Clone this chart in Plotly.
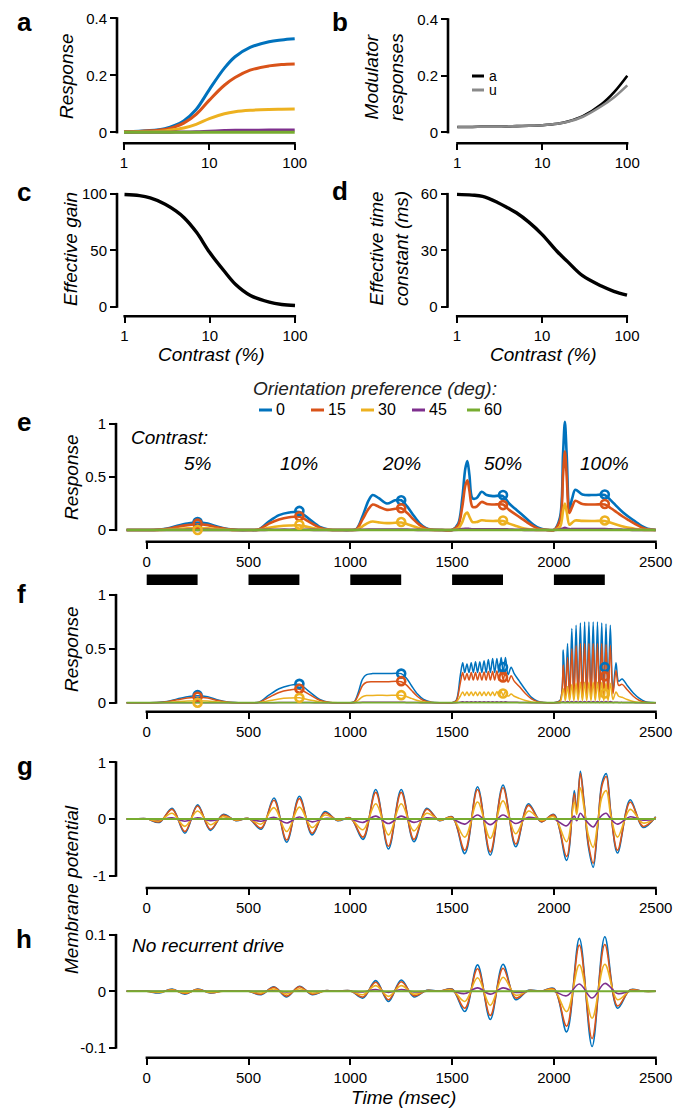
import plotly.graph_objects as go

W, H = 683, 1109
OFF = 8  # page body margin of the html page
FONT = "Liberation Sans, Arial, Helvetica, sans-serif"

# ---------------- data ----------------
orient_labels = ['0', '15', '30', '45', '60']
orient_colors = ['#0072BD', '#D95319', '#EDB120', '#7E2F8E', '#77AC30']

contrast = [1, 1.5, 2, 3, 4, 5, 7, 10, 15, 20, 30, 50, 70, 100]
a_r0 = [0.002, 0.004, 0.006, 0.013, 0.025, 0.04, 0.08, 0.15, 0.225, 0.265, 0.298, 0.318, 0.324, 0.328]
a_r15 = [0.002, 0.003, 0.005, 0.01, 0.02, 0.032, 0.063, 0.113, 0.165, 0.192, 0.218, 0.233, 0.238, 0.24]
a_r30 = [0.001, 0.002, 0.002, 0.005, 0.01, 0.015, 0.028, 0.048, 0.065, 0.072, 0.077, 0.08, 0.081, 0.082]
a_r45 = [0, 0, 0, 0, 0.001, 0.001, 0.002, 0.004, 0.006, 0.007, 0.007, 0.008, 0.008, 0.008]
a_r60 = [0, 0, 0, 0, 0, 0, 0, 0, 0, 0, 0, 0, 0, 0]

b_names = ['a', 'u']
b_a = [0.019, 0.019, 0.02, 0.02, 0.021, 0.022, 0.023, 0.025, 0.03, 0.038, 0.057, 0.1, 0.142, 0.2]
b_u = [0.019, 0.019, 0.02, 0.02, 0.021, 0.022, 0.023, 0.025, 0.03, 0.037, 0.055, 0.093, 0.124, 0.166]

c_gain = [99.5, 98.5, 96.5, 91, 85, 79, 66, 48, 31, 20, 10, 4, 2, 1]
d_tau = [59.8, 59.4, 58.7, 55.5, 52.5, 50, 45, 38.5, 29.5, 24, 16.5, 11, 8.2, 6.2]

stim_on = [0, 500, 1000, 1500, 2000]
stim_off = [250, 750, 1250, 1750, 2250]
contrast_labels = ['5%', '10%', '20%', '50%', '100%']
t_flat = [-100, 2500]
zero_flat = [0, 0]

# panel e
t_e = [-100, 0, 50, 100, 150, 200, 250, 300, 350, 400, 450, 500, 550, 600, 650, 700, 750, 800, 850, 900, 950, 1000,
       1030, 1060, 1090, 1110, 1140, 1180, 1220, 1250, 1280, 1310, 1340, 1370, 1400, 1450, 1500,
       1530, 1550, 1565, 1575, 1585, 1600, 1620, 1645, 1670, 1700, 1750, 1780, 1810, 1840, 1870, 1900, 1930, 1960, 2000,
       2030, 2045, 2054, 2063, 2076, 2090, 2105, 2140, 2200, 2250, 2280, 2310, 2340, 2370, 2400, 2430, 2460, 2500]
e_r0 = [0, 0, 0.002, 0.015, 0.04, 0.06, 0.07, 0.06, 0.03, 0.008, 0, 0, 0.005, 0.08, 0.14, 0.165, 0.17, 0.1, 0.03, 0.003, 0, 0,
        0.01, 0.13, 0.28, 0.33, 0.3, 0.25, 0.28, 0.28, 0.22, 0.14, 0.065, 0.02, 0.004, 0, 0,
        0.06, 0.3, 0.58, 0.65, 0.52, 0.3, 0.3, 0.36, 0.33, 0.32, 0.32, 0.25, 0.2, 0.15, 0.1, 0.05, 0.016, 0.003, 0,
        0.12, 0.72, 1.02, 0.7, 0.2, 0.3, 0.38, 0.335, 0.33, 0.33, 0.28, 0.22, 0.165, 0.12, 0.08, 0.038, 0.012, 0]
e_r15 = [0, 0, 0.001, 0.011, 0.03, 0.046, 0.054, 0.046, 0.023, 0.006, 0, 0, 0.004, 0.06, 0.1, 0.12, 0.125, 0.075, 0.022, 0.002, 0, 0,
         0.007, 0.1, 0.2, 0.24, 0.22, 0.19, 0.2, 0.205, 0.16, 0.1, 0.048, 0.015, 0.003, 0, 0,
         0.045, 0.22, 0.42, 0.47, 0.37, 0.22, 0.22, 0.265, 0.245, 0.24, 0.24, 0.19, 0.15, 0.11, 0.07, 0.035, 0.01, 0.002, 0,
         0.09, 0.52, 0.74, 0.5, 0.16, 0.22, 0.275, 0.245, 0.24, 0.24, 0.205, 0.165, 0.125, 0.09, 0.055, 0.025, 0.007, 0]
e_r30 = [0, 0, 0, 0.004, 0.01, 0.016, 0.018, 0.015, 0.008, 0.002, 0, 0, 0.001, 0.02, 0.035, 0.042, 0.044, 0.025, 0.007, 0.001, 0, 0,
         0.002, 0.035, 0.07, 0.08, 0.072, 0.065, 0.068, 0.07, 0.055, 0.035, 0.016, 0.005, 0.001, 0, 0,
         0.015, 0.075, 0.15, 0.165, 0.125, 0.075, 0.075, 0.092, 0.087, 0.085, 0.085, 0.06, 0.04, 0.022, 0.01, 0.004, 0.001, 0, 0,
         0.03, 0.18, 0.25, 0.17, 0.05, 0.07, 0.09, 0.086, 0.085, 0.085, 0.068, 0.05, 0.033, 0.02, 0.01, 0.004, 0.001, 0]
e_r45 = [0, 0, 0, 0, 0, 0.001, 0.001, 0.001, 0, 0, 0, 0, 0, 0.002, 0.003, 0.003, 0.003, 0.002, 0, 0, 0, 0,
         0, 0.003, 0.005, 0.005, 0.005, 0.005, 0.005, 0.005, 0.004, 0.002, 0.001, 0, 0, 0, 0,
         0.002, 0.008, 0.012, 0.012, 0.01, 0.007, 0.007, 0.007, 0.007, 0.007, 0.007, 0.005, 0.003, 0.002, 0.001, 0, 0, 0, 0,
         0.005, 0.015, 0.02, 0.015, 0.008, 0.008, 0.008, 0.008, 0.008, 0.008, 0.006, 0.004, 0.003, 0.002, 0.001, 0, 0, 0]
e_mark_r0 = [0.075, 0.18, 0.28, 0.33, 0.335]
e_mark_r15 = [0.06, 0.13, 0.205, 0.235, 0.245]
e_mark_r30 = [0.0, 0.05, 0.075, 0.09, 0.09]

# panel f
t_f = [-100, 0, 50, 100, 150, 200, 250, 300, 350, 400, 450, 500, 550, 600, 650, 700, 750, 800, 850, 900, 950, 1000,
       1020, 1040, 1060, 1080, 1110, 1180, 1250, 1275, 1300, 1330, 1360, 1400, 1450, 1500, 1520,
       1540, 1552, 1562, 1573, 1583, 1594, 1604, 1615, 1625, 1636, 1646, 1657, 1667, 1678, 1688, 1699, 1709, 1720, 1730, 1741, 1751, 1762,
       1775, 1790, 1805, 1830, 1860, 1890, 1920, 1950, 2000, 2030,
       2046, 2056, 2067, 2077, 2088, 2098, 2109, 2119, 2130, 2140, 2151, 2161, 2172, 2182, 2193, 2203, 2214, 2224, 2235, 2245, 2256, 2266, 2277,
       2290, 2305, 2318, 2335, 2360, 2390, 2420, 2450, 2480, 2500]
f_r0 = [0, 0, 0.002, 0.012, 0.035, 0.055, 0.065, 0.055, 0.025, 0.006, 0, 0, 0.004, 0.07, 0.13, 0.16, 0.17, 0.1, 0.03, 0.003, 0, 0,
        0.01, 0.1, 0.22, 0.26, 0.27, 0.27, 0.27, 0.23, 0.16, 0.08, 0.03, 0.004, 0, 0, 0.02,
        0.25, 0.37, 0.28, 0.36, 0.28, 0.37, 0.28, 0.38, 0.28, 0.38, 0.28, 0.39, 0.28, 0.40, 0.28, 0.41, 0.28, 0.41, 0.28, 0.42, 0.28, 0.42,
        0.26, 0.33, 0.27, 0.2, 0.12, 0.05, 0.015, 0.002, 0, 0.02,
        0.49, 0.05, 0.55, 0.05, 0.69, 0.05, 0.72, 0.05, 0.74, 0.05, 0.75, 0.05, 0.75, 0.05, 0.75, 0.05, 0.75, 0.05, 0.74, 0.05, 0.73, 0.05, 0.72,
        0.1, 0.37, 0.2, 0.22, 0.16, 0.09, 0.04, 0.01, 0.001, 0]
f_r15 = [0, 0, 0.001, 0.009, 0.027, 0.043, 0.05, 0.043, 0.02, 0.005, 0, 0, 0.003, 0.05, 0.095, 0.117, 0.125, 0.075, 0.022, 0.002, 0, 0,
         0.007, 0.075, 0.16, 0.19, 0.195, 0.195, 0.195, 0.165, 0.115, 0.058, 0.02, 0.003, 0, 0, 0.015,
         0.18, 0.28, 0.21, 0.27, 0.21, 0.28, 0.21, 0.28, 0.21, 0.28, 0.21, 0.285, 0.21, 0.29, 0.21, 0.29, 0.21, 0.295, 0.21, 0.3, 0.21, 0.3,
         0.19, 0.25, 0.2, 0.15, 0.085, 0.035, 0.01, 0.001, 0, 0.015,
         0.35, 0.04, 0.42, 0.04, 0.5, 0.04, 0.53, 0.04, 0.55, 0.04, 0.55, 0.04, 0.55, 0.04, 0.55, 0.04, 0.55, 0.04, 0.55, 0.04, 0.54, 0.04, 0.53,
         0.08, 0.3, 0.16, 0.17, 0.12, 0.06, 0.02, 0.004, 0, 0]
f_r30 = [0, 0, 0, 0.003, 0.01, 0.016, 0.018, 0.015, 0.007, 0.002, 0, 0, 0.001, 0.018, 0.035, 0.043, 0.045, 0.026, 0.007, 0.001, 0, 0,
         0.002, 0.025, 0.055, 0.066, 0.068, 0.068, 0.068, 0.057, 0.04, 0.02, 0.007, 0.001, 0, 0, 0.005,
         0.06, 0.1, 0.065, 0.1, 0.065, 0.1, 0.065, 0.1, 0.065, 0.1, 0.065, 0.1, 0.065, 0.1, 0.065, 0.1, 0.065, 0.105, 0.065, 0.105, 0.065, 0.105,
         0.06, 0.08, 0.06, 0.04, 0.02, 0.007, 0.002, 0, 0, 0.005,
         0.13, 0.02, 0.15, 0.02, 0.17, 0.02, 0.18, 0.02, 0.19, 0.02, 0.19, 0.02, 0.19, 0.02, 0.19, 0.02, 0.19, 0.02, 0.19, 0.02, 0.18, 0.02, 0.18,
         0.03, 0.1, 0.06, 0.05, 0.03, 0.012, 0.003, 0, 0, 0]
f_r45 = [0, 0, 0, 0, 0, 0, 0.001, 0, 0, 0, 0, 0, 0, 0, 0.001, 0.002, 0.002, 0.001, 0, 0, 0, 0,
         0, 0.002, 0.004, 0.004, 0.004, 0.004, 0.004, 0.003, 0.002, 0.001, 0, 0, 0, 0, 0,
         0.004, 0.008, 0.004, 0.008, 0.004, 0.008, 0.004, 0.008, 0.004, 0.008, 0.004, 0.008, 0.004, 0.008, 0.004, 0.008, 0.004, 0.008, 0.004, 0.008, 0.004, 0.008,
         0.004, 0.005, 0.004, 0.003, 0.001, 0, 0, 0, 0, 0,
         0.01, 0.002, 0.012, 0.002, 0.012, 0.002, 0.012, 0.002, 0.012, 0.002, 0.012, 0.002, 0.012, 0.002, 0.012, 0.002, 0.012, 0.002, 0.012, 0.002, 0.012, 0.002, 0.012,
         0.002, 0.005, 0.003, 0.003, 0.002, 0.001, 0, 0, 0, 0]
f_mark_r0 = [0.07, 0.175, 0.27, 0.33, 0.33]
f_mark_r15 = [0.055, 0.13, 0.2, 0.235, 0.245]
f_mark_r30 = [0.0, 0.045, 0.07, 0.085, 0.085]

# panel g (membrane potential, with recurrent drive)
t_g = [-100, -62.5, 0, 62.5, 125, 187.5, 250, 312.5, 375, 437.5, 500, 562.5, 625, 687.5, 750, 812.5, 875, 937.5,
       1000, 1062.5, 1125, 1187.5, 1250, 1312.5, 1375, 1437.5, 1500, 1562.5, 1625, 1687.5, 1750, 1812.5, 1875, 1937.5,
       2000, 2062.5, 2100, 2112, 2130, 2148, 2170, 2193, 2215, 2237, 2257, 2280, 2312.5, 2375, 2437.5, 2500]
g_r0 = [0, 0, 0.005, -0.06, 0.19, -0.25, 0.25, -0.2, 0.08, -0.03, 0.01, -0.18, 0.37, -0.41, 0.4, -0.28, 0.13, -0.03,
        0.02, -0.36, 0.52, -0.53, 0.52, -0.4, 0.19, -0.03, 0.04, -0.61, 0.57, -0.64, 0.6, -0.49, 0.27, -0.05,
        0.08, -0.73, 0.5, 0.15, 0.84, 0.3, -0.5, -0.85, -0.15, 0.65, 0.8, 0.1, -0.6, 0.34, -0.15, 0.04]
g_r15 = [0, 0, 0.004, -0.05, 0.17, -0.22, 0.23, -0.18, 0.07, -0.025, 0.008, -0.16, 0.33, -0.37, 0.36, -0.25, 0.11, -0.025,
         0.018, -0.32, 0.47, -0.48, 0.47, -0.36, 0.17, -0.025, 0.035, -0.55, 0.52, -0.58, 0.55, -0.44, 0.24, -0.045,
         0.07, -0.66, 0.45, 0.12, 0.8, 0.28, -0.45, -0.78, -0.12, 0.6, 0.75, 0.08, -0.55, 0.3, -0.13, 0.035]
g_r30 = [0, 0, 0.002, -0.03, 0.1, -0.13, 0.14, -0.1, 0.04, -0.015, 0.005, -0.09, 0.2, -0.22, 0.21, -0.15, 0.07, -0.015,
         0.01, -0.19, 0.27, -0.28, 0.27, -0.21, 0.1, -0.015, 0.02, -0.32, 0.3, -0.34, 0.32, -0.26, 0.14, -0.025,
         0.04, -0.4, 0.3, 0.08, 0.55, 0.2, -0.3, -0.5, -0.08, 0.4, 0.5, 0.05, -0.32, 0.17, -0.07, 0.02]
g_r45 = [0, 0, 0, -0.01, 0.02, -0.04, 0.02, -0.03, 0.005, 0, 0, -0.04, 0.03, -0.07, 0.035, -0.05, 0.01, 0,
         0, -0.06, 0.05, -0.08, 0.05, -0.06, 0.02, 0, 0, -0.09, 0.07, -0.1, 0.07, -0.08, 0.03, -0.005,
         0, -0.12, 0.05, -0.03, 0.1, 0.02, -0.08, -0.14, -0.03, 0.07, 0.1, 0.0, -0.09, 0.04, -0.02, 0]

# panel h (membrane potential, no recurrent drive)
t_h = [-100, -62.5, 0, 62.5, 125, 187.5, 250, 312.5, 375, 437.5, 500, 562.5, 625, 687.5, 750, 812.5, 875, 937.5,
       1000, 1062.5, 1125, 1187.5, 1250, 1312.5, 1375, 1437.5, 1500, 1562.5, 1625, 1687.5, 1750, 1812.5, 1875, 1937.5,
       2000, 2062.5, 2125, 2187.5, 2250, 2312.5, 2375, 2437.5, 2500]
h_r0 = [0, 0, 0, -0.003, 0.004, -0.005, 0.004, -0.003, 0.0005, 0, 0, -0.006, 0.008, -0.01, 0.009, -0.006, 0.001, 0,
        0.001, -0.012, 0.019, -0.018, 0.02, -0.01, 0.002, 0, 0.004, -0.036, 0.047, -0.05, 0.048, -0.015, 0.002, 0,
        0.005, -0.072, 0.094, -0.098, 0.097, -0.03, 0.003, 0, 0]
h_r15 = [0, 0, 0, -0.002, 0.003, -0.004, 0.0035, -0.0025, 0.0004, 0, 0, -0.005, 0.007, -0.0085, 0.008, -0.005, 0.001, 0,
         0.001, -0.01, 0.016, -0.015, 0.017, -0.008, 0.0015, 0, 0.0035, -0.03, 0.04, -0.043, 0.041, -0.012, 0.0015, 0,
         0.004, -0.062, 0.082, -0.084, 0.083, -0.026, 0.0025, 0, 0]
h_r30 = [0, 0, 0, -0.0015, 0.002, -0.0025, 0.002, -0.0015, 0, 0, 0, -0.003, 0.004, -0.005, 0.0045, -0.003, 0, 0,
         0, -0.006, 0.01, -0.009, 0.01, -0.005, 0.001, 0, 0.002, -0.018, 0.024, -0.025, 0.025, -0.007, 0.001, 0,
         0.0025, -0.036, 0.047, -0.048, 0.048, -0.015, 0.001, 0, 0]
h_r45 = [0, 0, 0, 0, 0, 0, 0, 0, 0, 0, 0, 0, 0.001, -0.001, 0.001, 0, 0, 0,
         0, -0.001, 0.003, -0.002, 0.003, -0.001, 0, 0, 0, -0.004, 0.006, -0.005, 0.006, -0.002, 0, 0,
         0, -0.008, 0.013, -0.012, 0.014, -0.004, 0, 0, 0]

# ---------------- helpers ----------------
def X(px):
    return (px - OFF) / W


def Y(py):
    return 1 - (py - OFF) / H


def vpx(v, m):
    va, pa, vb, pb = m
    return pa + (v - va) * (pb - pa) / (vb - va)


fig = go.Figure()
layout = {}
shapes = []
annotations = []

TICKFONT = dict(family=FONT, size=15, color='black')

panels = {
    1: dict(xtype='log', xmap=(0, 124, 2, 294.7), xr=(-0.015, 2.015), xticks=[1, 10, 100], xtt=['1', '10', '100'], xspan=(0, 2),
            ymap=(0, 132.3, 0.4, 18.3), yr=(-0.012, 0.41), yticks=[0, 0.2, 0.4], ytt=['0', '0.2', '0.4'], yspan=(0, 0.4),
            ysp=117, xsp=143.3),
    2: dict(xtype='log', xmap=(0, 457.3, 2, 627.3), xr=(-0.015, 2.015), xticks=[1, 10, 100], xtt=['1', '10', '100'], xspan=(0, 2),
            ymap=(0, 132.3, 0.4, 19.3), yr=(-0.012, 0.41), yticks=[0, 0.2, 0.4], ytt=['0', '0.2', '0.4'], yspan=(0, 0.4),
            ysp=448, xsp=143.3),
    3: dict(xtype='log', xmap=(0, 124.5, 2, 295), xr=(-0.015, 2.015), xticks=[1, 10, 100], xtt=['1', '10', '100'], xspan=(0, 2),
            ymap=(0, 306.7, 100, 194), yr=(-3, 103), yticks=[0, 50, 100], ytt=['0', '50', '100'], yspan=(0, 100),
            ysp=117, xsp=316.3),
    4: dict(xtype='log', xmap=(0, 457, 2, 627), xr=(-0.015, 2.015), xticks=[1, 10, 100], xtt=['1', '10', '100'], xspan=(0, 2),
            ymap=(0, 306.7, 60, 194), yr=(-2, 62), yticks=[0, 30, 60], ytt=['0', '30', '60'], yspan=(0, 60),
            ysp=447.5, xsp=316.3),
    5: dict(xtype='linear', xmap=(0, 146.7, 2500, 655.7), xr=(-100, 2510), xticks=[0, 500, 1000, 1500, 2000, 2500],
            xtt=['0', '500', '1000', '1500', '2000', '2500'], xspan=(0, 2500),
            ymap=(0, 530, 1, 424), yr=(-0.03, 1.07), yticks=[0, 0.5, 1], ytt=['0', '0.5', '1'], yspan=(0, 1),
            ysp=116, xsp=541.7),
    6: dict(xtype='linear', xmap=(0, 146.7, 2500, 655.7), xr=(-100, 2510), xticks=[0, 500, 1000, 1500, 2000, 2500],
            xtt=['0', '500', '1000', '1500', '2000', '2500'], xspan=(0, 2500),
            ymap=(0, 702.7, 1, 595), yr=(-0.03, 1.02), yticks=[0, 0.5, 1], ytt=['0', '0.5', '1'], yspan=(0, 1),
            ysp=116, xsp=711.7),
    7: dict(xtype='linear', xmap=(0, 146.7, 2500, 655.7), xr=(-100, 2510), xticks=[0, 500, 1000, 1500, 2000, 2500],
            xtt=['0', '500', '1000', '1500', '2000', '2500'], xspan=(0, 2500),
            ymap=(0, 819, 1, 762.3), yr=(-1.03, 1.03), yticks=[-1, 0, 1], ytt=['-1', '0', '1'], yspan=(-1, 1),
            ysp=116, xsp=888),
    8: dict(xtype='linear', xmap=(0, 146.7, 2500, 655.7), xr=(-100, 2510), xticks=[0, 500, 1000, 1500, 2000, 2500],
            xtt=['0', '500', '1000', '1500', '2000', '2500'], xspan=(0, 2500),
            ymap=(0, 991.3, 0.1, 935), yr=(-0.106, 0.106), yticks=[-0.1, 0, 0.1], ytt=['-0.1', '0', '0.1'], yspan=(-0.1, 0.1),
            ysp=116, xsp=1057.7),
}

SPINE_W = 2.6
for i, p in panels.items():
    ax = '' if i == 1 else str(i)
    xd = [X(vpx(p['xr'][0], p['xmap'])), X(vpx(p['xr'][1], p['xmap']))]
    yd = [Y(vpx(p['yr'][0], p['ymap'])), Y(vpx(p['yr'][1], p['ymap']))]
    layout['xaxis' + ax] = dict(type=p['xtype'], domain=xd, range=list(p['xr']), anchor='free', position=Y(p['xsp']),
                                showline=False, showgrid=False, zeroline=False, ticks='outside', ticklen=6,
                                tickwidth=2.2, tickcolor='black', tickvals=p['xticks'], ticktext=p['xtt'],
                                tickfont=TICKFONT, fixedrange=True, automargin=False)
    layout['yaxis' + ax] = dict(domain=yd, range=list(p['yr']), anchor='free', position=X(p['ysp']),
                                showline=False, showgrid=False, zeroline=False, ticks='outside', ticklen=7,
                                tickwidth=2.2, tickcolor='black', tickvals=p['yticks'], ticktext=p['ytt'],
                                tickfont=TICKFONT, fixedrange=True, automargin=False)
    # spines
    x0, x1 = vpx(p['xspan'][0], p['xmap']), vpx(p['xspan'][1], p['xmap'])
    shapes.append(dict(type='line', xref='paper', yref='paper', x0=X(x0 - 1.1), x1=X(x1 + 1.1),
                       y0=Y(p['xsp']), y1=Y(p['xsp']), line=dict(color='black', width=SPINE_W)))
    y0, y1 = vpx(p['yspan'][0], p['ymap']), vpx(p['yspan'][1], p['ymap'])
    shapes.append(dict(type='line', xref='paper', yref='paper', x0=X(p['ysp']), x1=X(p['ysp']),
                       y0=Y(y0 + 1.1), y1=Y(y1 - 1.1), line=dict(color='black', width=SPINE_W)))


def add_line(i, x, y, color, width, smoothing=1.0):
    ax = '' if i == 1 else str(i)
    fig.add_trace(go.Scatter(x=x, y=y, mode='lines',
                             line=dict(color=color, width=width, shape='spline', smoothing=smoothing),
                             xaxis='x' + ax, yaxis='y' + ax, hoverinfo='skip', showlegend=False))


def add_marks(i, x, y, color):
    ax = '' if i == 1 else str(i)
    fig.add_trace(go.Scatter(x=x, y=y, mode='markers',
                             marker=dict(symbol='circle-open', size=8, color=color, line=dict(width=2.6, color=color)),
                             xaxis='x' + ax, yaxis='y' + ax, hoverinfo='skip', showlegend=False, cliponaxis=False))


# panel a
for ser, col in zip([a_r0, a_r15, a_r30, a_r45, a_r60], orient_colors):
    add_line(1, contrast, ser, col, 3.0)
# panel b (u drawn over a)
add_line(2, contrast, b_a, 'black', 2.6)
add_line(2, contrast, b_u, '#8a8a8a', 2.6)
# panel c / d
add_line(3, contrast, c_gain, 'black', 3.4)
add_line(4, contrast, d_tau, 'black', 3.4)

# panel e
for ser, col in zip([e_r0, e_r15, e_r30, e_r45], orient_colors[:4]):
    add_line(5, t_e, ser, col, 2.6, 0.9)
add_line(5, t_flat, zero_flat, orient_colors[4], 2.6)
for ser, col in zip([e_mark_r0, e_mark_r15, e_mark_r30], orient_colors[:3]):
    add_marks(5, stim_off, ser, col)

# panel f
for ser, col in zip([f_r0, f_r15, f_r30, f_r45], orient_colors[:4]):
    add_line(6, t_f, ser, col, 1.5, 0.9)
add_line(6, t_flat, zero_flat, orient_colors[4], 1.8)
for ser, col in zip([f_mark_r0, f_mark_r15, f_mark_r30], orient_colors[:3]):
    add_marks(6, stim_off, ser, col)

# panel g
for ser, col in zip([g_r0, g_r15, g_r30, g_r45], orient_colors[:4]):
    add_line(7, t_g, ser, col, 1.6, 1.0)
add_line(7, t_flat, zero_flat, orient_colors[4], 1.8)

# panel h
for ser, col in zip([h_r0, h_r15, h_r30, h_r45], orient_colors[:4]):
    add_line(8, t_h, ser, col, 1.6, 1.0)
add_line(8, t_flat, zero_flat, orient_colors[4], 2.0)

# stimulus bars (in panel e time coordinates)
for on, off in zip(stim_on, stim_off):
    shapes.append(dict(type='rect', xref='x5', yref='paper', x0=on, x1=off, y0=Y(585), y1=Y(574.5),
                       fillcolor='black', line=dict(width=0)))

# contrast labels
annotations.append(dict(x=X(129), y=Y(438), xref='paper', yref='paper', text='<i>Contrast:</i>', showarrow=False,
                        xanchor='left', yanchor='middle', font=dict(family=FONT, size=19, color='black')))
for lab, off in zip(contrast_labels, stim_off):
    annotations.append(dict(x=off, y=Y(463), xref='x5', yref='paper', text='<i>' + lab + '</i>', showarrow=False,
                            xanchor='center', yanchor='middle', font=dict(family=FONT, size=19, color='black')))

annotations.append(dict(x=X(130), y=Y(945), xref='paper', yref='paper', text='<i>No recurrent drive</i>',
                        showarrow=False, xanchor='left', yanchor='middle', font=dict(family=FONT, size=19, color='black')))

# orientation legend
annotations.append(dict(x=X(375), y=Y(388), xref='paper', yref='paper', text='<i>Orientation preference (deg):</i>',
                        showarrow=False, xanchor='center', yanchor='middle', font=dict(family=FONT, size=19, color='#222')))
leg_x = [259, 311, 361, 412, 467]
for lab, col, lx in zip(orient_labels, orient_colors, leg_x):
    shapes.append(dict(type='line', xref='paper', yref='paper', x0=X(lx), x1=X(lx + 13), y0=Y(410), y1=Y(410),
                       line=dict(color=col, width=3)))
    annotations.append(dict(x=X(lx + 15), y=Y(410), xref='paper', yref='paper', text=lab, showarrow=False,
                            xanchor='left', yanchor='middle', font=dict(family=FONT, size=16, color='black')))

# panel b legend
for nm, col, ly in zip(b_names, ['black', '#8a8a8a'], [76, 90]):
    shapes.append(dict(type='line', xref='paper', yref='paper', x0=X(472), x1=X(484), y0=Y(ly), y1=Y(ly),
                       line=dict(color=col, width=3)))
    annotations.append(dict(x=X(487), y=Y(ly), xref='paper', yref='paper', text=nm, showarrow=False,
                            xanchor='left', yanchor='middle', font=dict(family=FONT, size=14, color='black')))

# axis titles
ytitles = [
    ('Response', 67, 76), ('Modulator<br>responses', 384, 77), ('Effective gain', 70, 249),
    ('Effective time<br>constant (ms)', 389, 249), ('Response', 71, 477), ('Response', 71, 649),
    ('Membrane potential', 71, 890),
]
for txt, xx, yy in ytitles:
    annotations.append(dict(x=X(xx), y=Y(yy), xref='paper', yref='paper', text='<i>' + txt + '</i>', showarrow=False,
                            textangle=-90, xanchor='center', yanchor='middle',
                            font=dict(family=FONT, size=19, color='black')))
xtitles = [('Contrast (%)', 211, 354), ('Contrast (%)', 543, 354), ('Time (msec)', 403, 1097)]
for txt, xx, yy in xtitles:
    annotations.append(dict(x=X(xx), y=Y(yy), xref='paper', yref='paper', text='<i>' + txt + '</i>', showarrow=False,
                            xanchor='center', yanchor='middle', font=dict(family=FONT, size=19, color='black')))

# panel letters
letters = [('a', 24, 22.5), ('b', 340, 22.5), ('c', 24, 192), ('d', 340, 191), ('e', 24, 422),
           ('f', 21, 594), ('g', 25, 766), ('h', 24, 939)]
for l, xx, yy in letters:
    annotations.append(dict(x=X(xx), y=Y(yy), xref='paper', yref='paper', text='<b>' + l + '</b>', showarrow=False,
                            xanchor='center', yanchor='middle', font=dict(family=FONT, size=26, color='black')))

layout.update(dict(template='none', width=W, height=H, margin=dict(l=0, r=0, t=0, b=0, pad=0),
                   paper_bgcolor='white', plot_bgcolor='rgba(0,0,0,0)', showlegend=False, hovermode=False,
                   font=dict(family=FONT, color='black'), shapes=shapes, annotations=annotations))
fig.update_layout(**layout)
fig.write_html("out.html")
